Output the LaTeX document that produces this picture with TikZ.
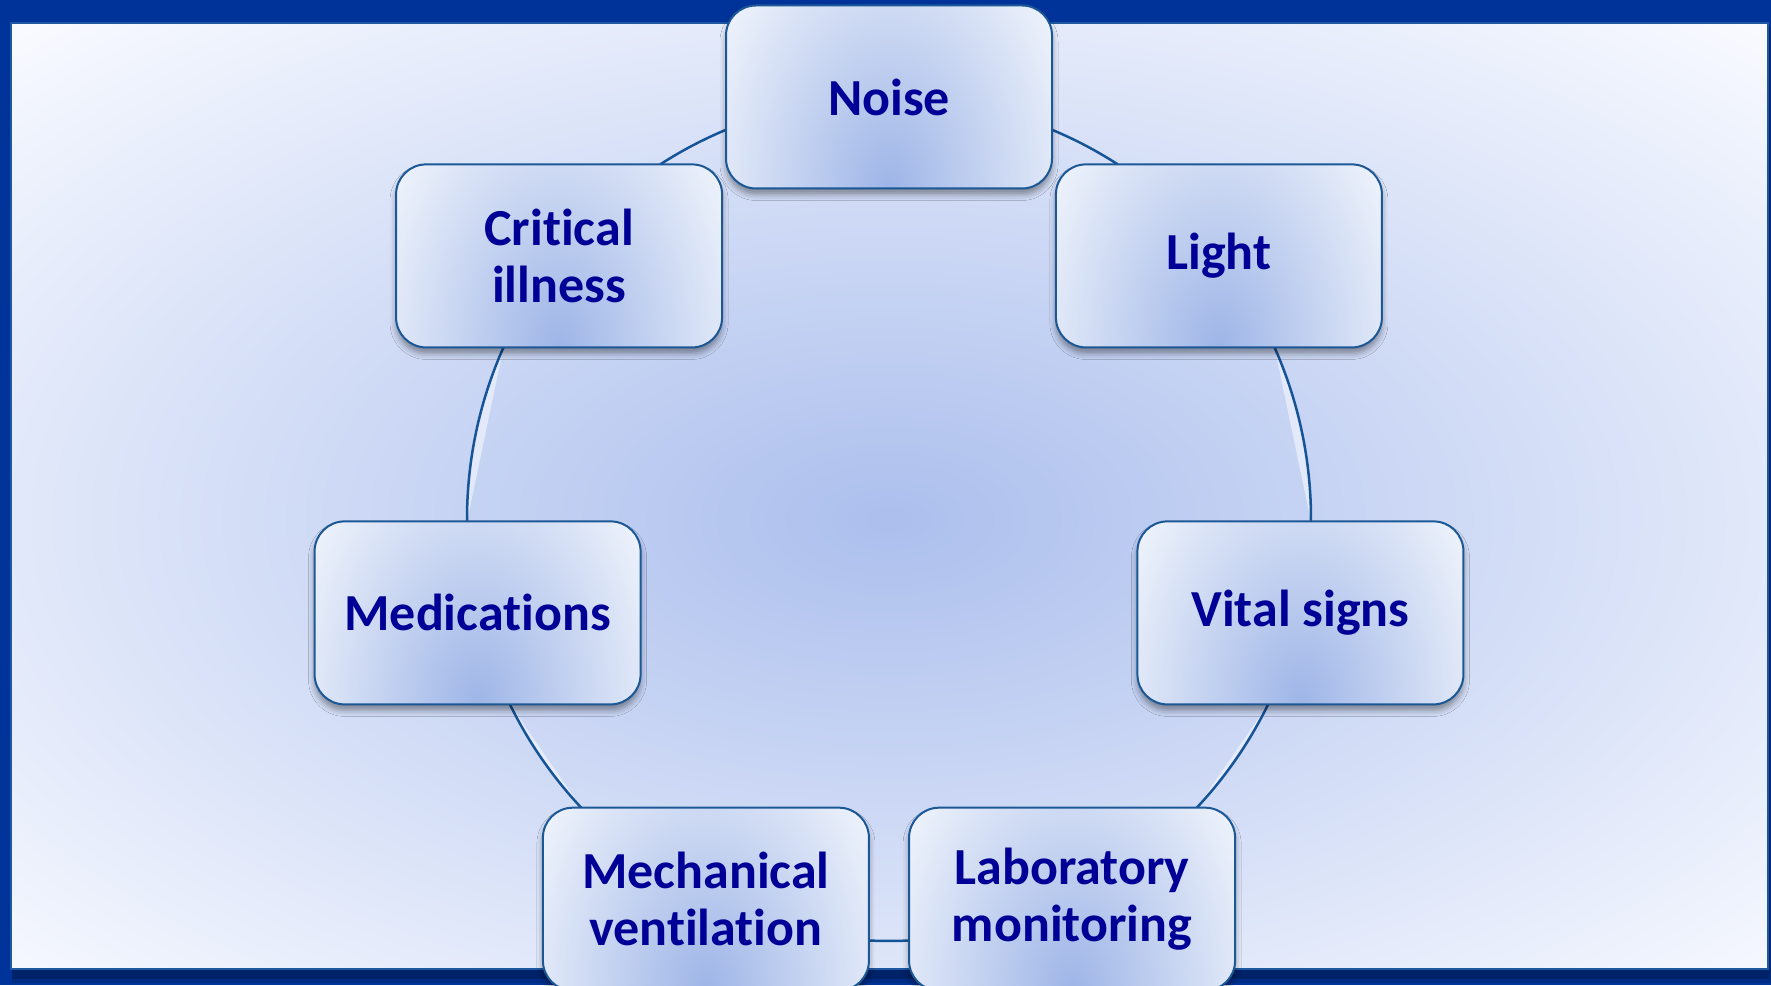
\documentclass[tikz,border=0pt]{standalone}
\usepackage{fontspec}
\setmainfont{Carlito}[Ligatures=NoCommon]
\usetikzlibrary{shadows.blur}
\definecolor{frame}{RGB}{0,51,153}
\definecolor{frameline}{RGB}{30,88,160}
\definecolor{bgin}{RGB}{172,191,237}
\definecolor{bgout}{RGB}{248,250,255}
\definecolor{boxin}{RGB}{158,181,231}
\definecolor{boxout}{RGB}{241,245,252}
\definecolor{boxline}{RGB}{28,88,150}
\definecolor{ringcol}{RGB}{22,84,152}
\definecolor{txt}{RGB}{0,0,150}
\definecolor{shadowcol}{RGB}{20,40,90}
\pgfdeclareradialshading{bgshade}{\pgfpoint{0bp}{0bp}}{color(0bp)=(bgin); color(25bp)=(bgout); color(50bp)=(bgout)}
\pgfdeclareradialshading{boxshade}{\pgfpoint{0bp}{0bp}}{color(0bp)=(boxin); color(25bp)=(boxout); color(50bp)=(boxout)}
\tikzset{
  cbox/.style={rounded corners=30pt, draw=boxline, line width=2pt,
    minimum width=326pt, minimum height=183pt, inner sep=0pt,
    text=txt, align=center, font=\bfseries\fontsize{52}{57}\selectfont,
    blur shadow={shadow xshift=0pt, shadow yshift=-6pt, shadow blur radius=6pt, shadow opacity=40, shadow blur extra rounding=2pt},
    path picture={\shade[shading=boxshade]
      ([xshift=-205pt,yshift=-310pt]path picture bounding box.south) rectangle
      ([xshift=205pt,yshift=310pt]path picture bounding box.south);}},
  ring/.style={draw=ringcol, line width=2.5pt},
  crescent/.style={fill=white, fill opacity=0.5}
}
\begin{document}
\begin{tikzpicture}[x=1pt,y=1pt]
\useasboundingbox (0,0) rectangle (1771,985);
\clip (0,0) rectangle (1771,985);
% frame
\fill[frame] (0,0) rectangle (1771,985);
\fill[black, opacity=0.22] (12,6) rectangle (1770,958);
\fill[black, opacity=0.12] (12,2) rectangle (1771,958);
\begin{scope}
  \clip (11,16) rectangle (1768,962);
  \shade[shading=bgshade] (889-1250,466-680) rectangle (889+1250,466+680);
\end{scope}
\draw[frameline, line width=2pt] (11,16) rectangle (1768,962);
\begin{scope}[shift={(889,466)}]
  % connector end points
  \coordinate (noise-r) at (67.28:422);
  \coordinate (light-t) at (57.17:422);
  \coordinate (light-b) at (23.99:422);
  \coordinate (vital-t) at (-0.33:422);
  \coordinate (vital-b) at (-26.06:422);
  \coordinate (lab-t)   at (-43.17:422);
  \coordinate (lab-l)   at (-87.27:422);
  \coordinate (mech-r)  at (-92.73:422);
  \coordinate (mech-t)  at (-136.83:422);
  \coordinate (med-b)   at (-153.94:422);
  \coordinate (med-t)   at (-179.67:422);
  \coordinate (crit-b)  at (-203.99:422);
  \coordinate (crit-t)  at (122.83:422);
  \coordinate (noise-l) at (112.72:422);
  % crescents
  \fill[crescent] (noise-r) arc[start angle=67.28, end angle=57.17, radius=422pt] -- (light-t) -- cycle;
  \fill[crescent] (light-b) arc[start angle=23.99, end angle=-0.33, radius=422pt] -- (vital-t) -- cycle;
  \fill[crescent] (vital-b) arc[start angle=-26.06, end angle=-43.17, radius=422pt] -- (lab-t) -- cycle;
  \fill[crescent] (mech-t) arc[start angle=-136.83, end angle=-153.94, radius=422pt] -- (med-b) -- cycle;
  \fill[crescent] (med-t) arc[start angle=-179.67, end angle=-203.99, radius=422pt] -- (crit-b) -- cycle;
  \fill[crescent] (crit-t) arc[start angle=122.83, end angle=112.72, radius=422pt] -- (noise-l) -- cycle;
  % ring arcs
  \draw[ring] (noise-r) arc[start angle=67.28, end angle=57.17, radius=422pt];
  \draw[ring] (light-b) arc[start angle=23.99, end angle=-0.33, radius=422pt];
  \draw[ring] (vital-b) arc[start angle=-26.06, end angle=-43.17, radius=422pt];
  \draw[ring] (lab-l) arc[start angle=-87.27, end angle=-92.73, radius=422pt];
  \draw[ring] (mech-t) arc[start angle=-136.83, end angle=-153.94, radius=422pt];
  \draw[ring] (med-t) arc[start angle=-179.67, end angle=-203.99, radius=422pt];
  \draw[ring] (crit-t) arc[start angle=122.83, end angle=112.72, radius=422pt];
  % boxes
  \node[cbox] (noise) at (90:422) {Noise};
  \node[cbox] (light) at (38.571:422) {Light};
  \node[cbox] (vital) at (-12.857:422) {Vital signs};
  \node[cbox] (lab)   at (-64.286:422) {Laboratory\\monitoring};
  \node[cbox] (mech)  at (-115.714:422) {Mechanical\\ventilation};
  \node[cbox] (med)   at (-167.143:422) {Medications};
  \node[cbox] (crit)  at (141.429:422) {Critical\\illness};
\end{scope}
\end{tikzpicture}
\end{document}
